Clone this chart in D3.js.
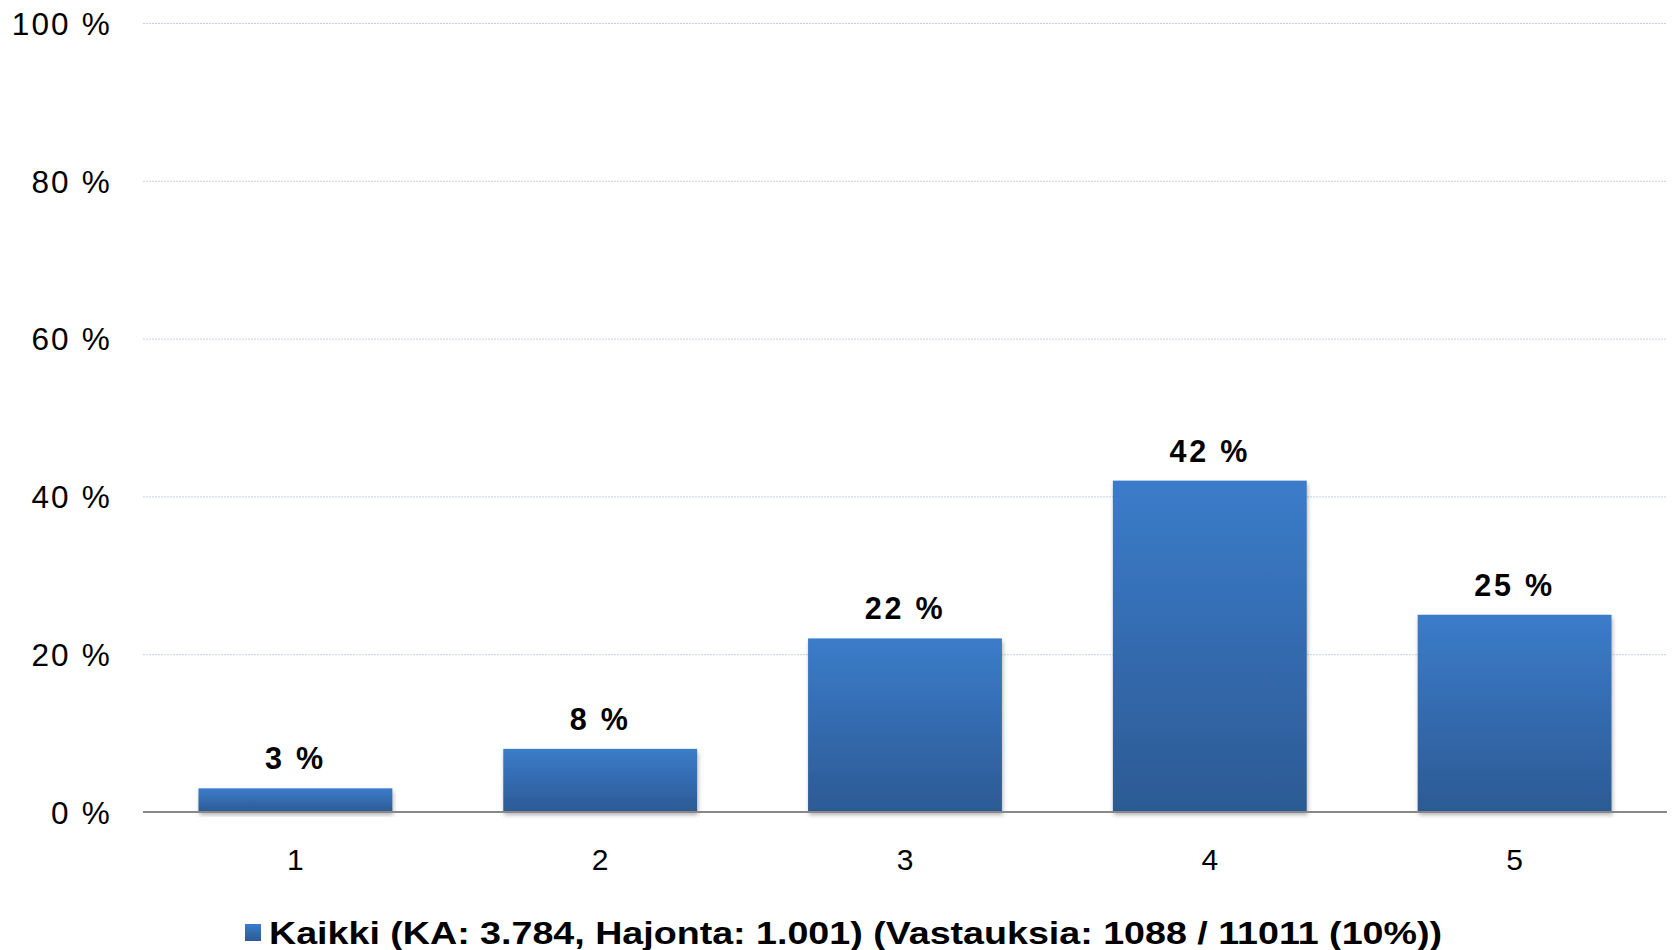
<!DOCTYPE html>
<html>
<head>
<meta charset="utf-8">
<script src="https://cdn.jsdelivr.net/npm/d3@7"></script>
<style>
	body { margin: 0; background: #fff; }
	text { font-family: "Liberation Sans", Arial, sans-serif; fill: #000; }
</style>
</head>
<body>
<div id="chart"></div>
<script>
// data
var categories = ["1", "2", "3", "4", "5"];
var values = [3, 8, 22, 42, 25];
var yTicks = [0, 20, 40, 60, 80, 100];
var seriesName = "Kaikki (KA: 3.784, Hajonta: 1.001) (Vastauksia: 1088 / 11011 (10%))";

var width = 1675, height = 950;
var margin = { top: 23, right: 8, bottom: 138, left: 143 };

var svg = d3.select("#chart").append("svg")
	.attr("width", width)
	.attr("height", height);

var defs = svg.append("defs");
var grad = defs.append("linearGradient")
	.attr("id", "barGrad")
	.attr("x1", 0).attr("y1", 0).attr("x2", 0).attr("y2", 1);
grad.append("stop").attr("offset", "0%").attr("stop-color", "#3b7cca");
grad.append("stop").attr("offset", "100%").attr("stop-color", "#2c5a94");

var shadow = defs.append("filter").attr("id", "shadow")
	.attr("x", "-10%").attr("y", "-10%").attr("width", "120%").attr("height", "130%");
shadow.append("feDropShadow")
	.attr("dx", 1).attr("dy", 3).attr("stdDeviation", 2)
	.attr("flood-color", "#000").attr("flood-opacity", 0.3);

var x = d3.scaleBand()
	.domain(categories)
	.range([margin.left, width - margin.right])
	.paddingInner(0.364)
	.paddingOuter(0.182);

var y = d3.scaleLinear()
	.domain([0, 100])
	.range([height - margin.bottom, margin.top]);

// gridlines
svg.append("g").selectAll("line.grid")
	.data(yTicks.filter(function(d) { return d > 0; }))
	.enter()
	.append("line")
	.attr("class", "grid")
	.attr("x1", margin.left)
	.attr("x2", width - margin.right)
	.attr("y1", function(d) { return y(d) + 0.5; })
	.attr("y2", function(d) { return y(d) + 0.5; })
	.attr("stroke", "#c3d1e6")
	.attr("stroke-width", 1)
	.attr("stroke-dasharray", "2,1");

// y axis labels
var yAxis = d3.axisLeft(y)
	.tickValues(yTicks)
	.tickSize(0)
	.tickPadding(0)
	.tickFormat(function(d) { return d + " %"; });

var yg = svg.append("g")
	.attr("transform", "translate(" + (margin.left - 31) + ",0)")
	.call(yAxis);
yg.select(".domain").remove();
yg.selectAll("text")
	.attr("font-size", "31.5px")
	.attr("letter-spacing", "2.2px")
	.attr("dy", "0.36em");

// bars
svg.append("g").selectAll("rect.bar")
	.data(values)
	.enter()
	.append("rect")
	.attr("class", "bar")
	.attr("x", function(d, i) { return x(categories[i]); })
	.attr("y", function(d) { return y(d); })
	.attr("width", x.bandwidth())
	.attr("height", function(d) { return y(0) - y(d); })
	.attr("fill", "url(#barGrad)")
	.attr("filter", "url(#shadow)");

// baseline
svg.append("line")
	.attr("x1", margin.left)
	.attr("x2", width - margin.right)
	.attr("y1", y(0))
	.attr("y2", y(0))
	.attr("stroke", "#888")
	.attr("stroke-width", 2);

// value labels
svg.append("g").selectAll("text.value")
	.data(values)
	.enter()
	.append("text")
	.attr("class", "value")
	.attr("x", function(d, i) { return x(categories[i]) + x.bandwidth() / 2; })
	.attr("y", function(d) { return y(d) - 19; })
	.attr("text-anchor", "middle")
	.attr("font-size", "30.5px")
	.attr("font-weight", "bold")
	.attr("letter-spacing", "2.8px")
	.text(function(d) { return d + " %"; });

// x axis labels
var xAxis = d3.axisBottom(x).tickSize(0).tickPadding(0);
var xg = svg.append("g")
	.attr("transform", "translate(0," + (y(0) + 58) + ")")
	.call(xAxis);
xg.select(".domain").remove();
xg.selectAll("text")
	.attr("font-size", "30px")
	.attr("dy", 0);

// legend
var legend = svg.append("g").attr("transform", "translate(245,924)");
legend.append("rect")
	.attr("width", 16)
	.attr("height", 17)
	.attr("fill", "url(#barGrad)");
legend.append("text")
	.attr("x", 24)
	.attr("y", 20)
	.attr("font-size", "31px")
	.attr("font-weight", "bold")
	.attr("textLength", 1173)
	.attr("lengthAdjust", "spacingAndGlyphs")
	.text(seriesName);
</script>
</body>
</html>
